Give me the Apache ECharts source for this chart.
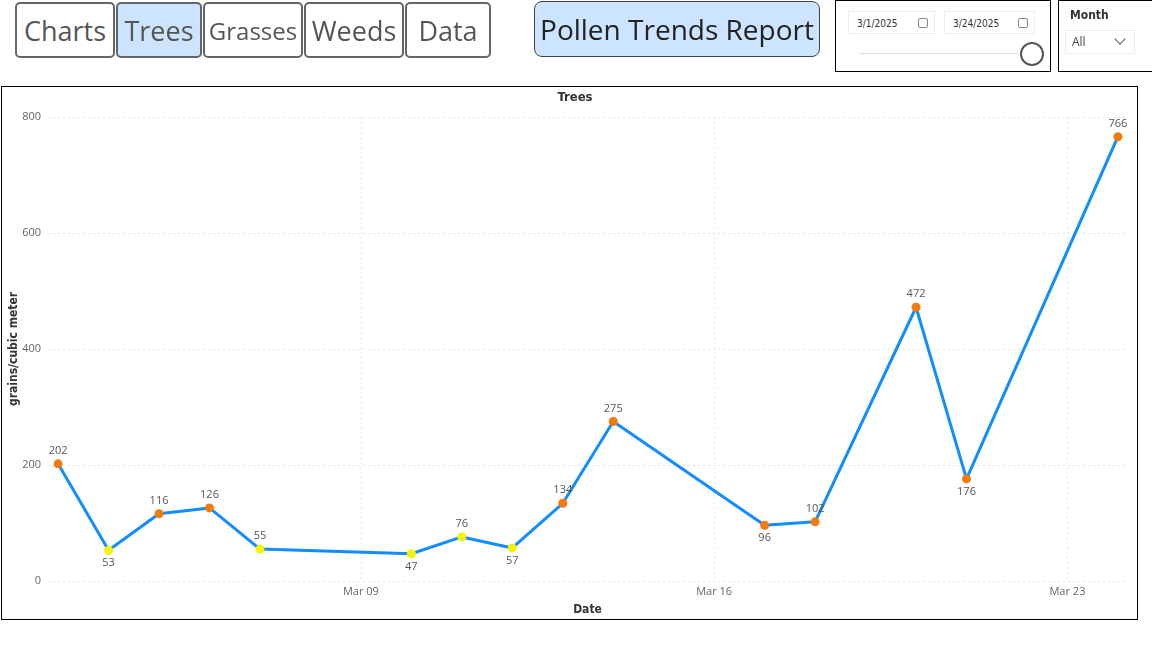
<!DOCTYPE html>
<html>
<head>
<meta charset="utf-8">
<script src="https://cdn.jsdelivr.net/npm/echarts@6/dist/echarts.min.js"></script>
<style>
  html, body { margin:0; padding:0; background:#fff; }
  body { width:1152px; height:648px; position:relative; overflow:hidden; font-family:"Open Sans","Noto Sans",sans-serif; }
  #chart { position:absolute; left:0; top:0; width:1152px; height:648px; }
  .btn { position:absolute; top:2px; height:52px; border:2px solid #666; border-radius:5px; background:#fff;
         color:#555; font-size:27px; display:flex; align-items:center; justify-content:center; box-sizing:content-box; }
  .sel { background:#CCE4FF; }
  .report { position:absolute; left:534px; top:1px; width:284px; height:54px; border:1px solid #444; border-radius:8px;
            background:#CCE4FF; color:#222; font-size:28px; display:flex; align-items:center; justify-content:center; }
  .box { position:absolute; top:0; height:70px; border:1px solid #000; background:#fff; }
  .inp { position:absolute; top:10px; height:23px; border:1px solid #eee; font-size:10px; color:#333;
         line-height:23px; padding-left:8px; box-sizing:border-box; font-family:"DejaVu Sans Condensed","Noto Sans",sans-serif; }
  .cal { position:absolute; right:6px; top:6px; width:8px; height:8px; border:1px solid #888; border-radius:2px; }
  .frame { position:absolute; left:1px; top:86px; width:1135px; height:532px; border:1px solid #000; pointer-events:none; }
</style>
</head>
<body>
<div id="chart"></div>
<div class="frame"></div>

<div class="btn" style="left:15px;width:96px;">Charts</div>
<div class="btn sel" style="left:116px;width:82px;">Trees</div>
<div class="btn" style="left:203px;width:96px;font-size:24px;">Grasses</div>
<div class="btn" style="left:304px;width:96px;">Weeds</div>
<div class="btn" style="left:405px;width:82px;">Data</div>

<div class="report">Pollen Trends Report</div>

<div class="box" style="left:835px;width:214px;">
  <div class="inp" style="left:12px;width:87px;">3/1/2025<span class="cal"></span></div>
  <div class="inp" style="left:108px;width:91px;">3/24/2025<span class="cal"></span></div>
  <div style="position:absolute;left:23px;top:52px;width:160px;height:1px;background:#ddd;"></div>
  <div style="position:absolute;left:184px;top:41px;width:20px;height:20px;border:2px solid #555;border-radius:50%;background:#fff;"></div>
</div>

<div class="box" style="left:1058px;width:100px;">
  <div style="position:absolute;left:11px;top:7px;font-size:12px;font-weight:bold;color:#333;font-family:'DejaVu Sans Condensed','Noto Sans',sans-serif;">Month</div>
  <div style="position:absolute;left:6px;top:29px;width:70px;height:24px;border:1px solid #eee;box-sizing:border-box;font-size:12px;color:#444;line-height:22px;padding-left:6px;">All
    <span style="position:absolute;right:10px;top:4px;width:7px;height:7px;border-right:1px solid #666;border-bottom:1px solid #666;transform:rotate(45deg);"></span>
  </div>
</div>

<script>
// ---- data ----
const dates = ['2025-03-03','2025-03-04','2025-03-05','2025-03-06','2025-03-07',
               '2025-03-10','2025-03-11','2025-03-12','2025-03-13','2025-03-14',
               '2025-03-17','2025-03-18','2025-03-20','2025-03-21','2025-03-24'];
const values = [202, 53, 116, 126, 55, 47, 76, 57, 134, 275, 96, 102, 472, 176, 766];
const xTickDates = ['2025-03-09','2025-03-16','2025-03-23'];
const yTicks = [0, 200, 400, 600, 800];
const highThreshold = 90;

function ts(s) { const p = s.split('-').map(Number); return new Date(p[0], p[1]-1, p[2]).getTime(); }
const DAY = 86400000;
const seriesData = dates.map((d, i) => {
  const v = values[i];
  const prev = i > 0 ? values[i-1] : Infinity;
  const next = i < values.length-1 ? values[i+1] : Infinity;
  const isMin = v < prev && v < next;
  return {
    value: [ts(d), v],
    itemStyle: { color: v >= highThreshold ? '#F47A0A' : '#F5F500' },
    label: { position: isMin ? 'bottom' : 'top' }
  };
});

const chart = echarts.init(document.getElementById('chart'), null, { renderer: 'canvas' });
const font = '"Open Sans","Noto Sans",sans-serif';
const boldFont = '"DejaVu Sans Condensed","Noto Sans",sans-serif';
chart.setOption({
  animation: false,
  title: { text: 'Trees', left: 570, top: 86, textAlign: 'center',
           textStyle: { fontSize: 13, fontWeight: 'bold', color: '#333', fontFamily: boldFont } },
  grid: { left: 48, right: 25, top: 117, bottom: 67, containLabel: false, outerBoundsMode: 'none' },
  xAxis: {
    type: 'time',
    min: ts(dates[0]) - 0.2 * DAY,
    max: ts(dates[dates.length-1]) + 0.18 * DAY,
    name: 'Date', nameLocation: 'middle', nameGap: 23, nameMoveOverlap: false,
    nameTextStyle: { fontSize: 12, fontWeight: 'bold', color: '#333', fontFamily: boldFont },
    axisLine: { show: false }, axisTick: { show: false, customValues: xTickDates.map(ts) },
    axisLabel: { customValues: xTickDates.map(ts), formatter: '{MMM} {dd}', color: '#666', fontSize: 11,
                 fontFamily: font, margin: 5, hideOverlap: false },
    splitLine: { show: true, lineStyle: { color: '#e4e4e4', type: [2, 3], width: 1 } }
  },
  yAxis: {
    type: 'value', min: yTicks[0], max: yTicks[yTicks.length-1], interval: yTicks[1] - yTicks[0],
    name: 'grains/cubic meter', nameLocation: 'middle', nameGap: 28, nameRotate: 90, nameMoveOverlap: false,
    nameTextStyle: { fontSize: 12, fontWeight: 'bold', color: '#333', fontFamily: boldFont },
    axisLine: { show: false }, axisTick: { show: false },
    axisLabel: { color: '#666', fontSize: 11, fontFamily: font, margin: 7 },
    splitLine: { lineStyle: { color: '#e4e4e4', type: [2, 3], width: 1 } }
  },
  series: [{
    type: 'line',
    data: seriesData,
    symbol: 'circle', symbolSize: 9,
    lineStyle: { color: '#118DFF', width: 3 },
    label: { show: true, color: '#555', fontSize: 11, fontFamily: font, distance: 3 },
    z: 3
  }]
});
</script>
</body>
</html>
